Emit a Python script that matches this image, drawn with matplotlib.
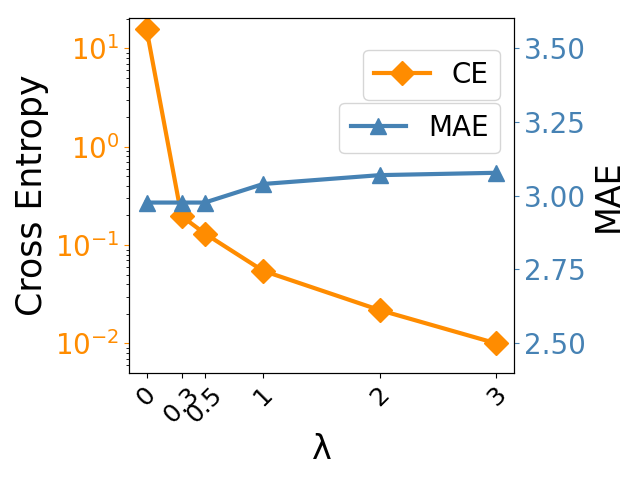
import matplotlib
matplotlib.use("Agg")
import matplotlib.pyplot as plt

lambdas = [0, 0.3, 0.5, 1, 2, 3]
tick_labels = ["0", "0.3", "0.5", "1", "2", "3"]
ce_values = [15.7, 0.197, 0.131, 0.0547, 0.0218, 0.0100]
mae_values = [2.977, 2.977, 2.977, 3.040, 3.070, 3.078]

ce_color = "darkorange"
mae_color = "steelblue"

fig, ax1 = plt.subplots(figsize=(6.4, 4.8), dpi=100)
fig.subplots_adjust(left=0.2016, right=0.803, top=0.9625, bottom=0.223)

l1, = ax1.plot(lambdas, ce_values, color=ce_color, marker="D", markersize=12,
               linewidth=3, label="CE")
ax1.set_yscale("log")
ax1.set_ylim(10 ** -2.3, 10 ** 1.308)
ax1.set_ylabel("Cross Entropy", fontsize=25)
ax1.set_xlabel("λ", fontsize=24)
ax1.tick_params(axis="y", colors=ce_color, labelsize=20)
ax1.set_xticks(lambdas)
ax1.set_xticklabels(tick_labels, rotation=45, fontsize=18)

ax2 = ax1.twinx()
l2, = ax2.plot(lambdas, mae_values, color=mae_color, marker="^", markersize=12,
               linewidth=3, label="MAE")
ax2.set_ylim(2.399, 3.603)
ax2.set_yticks([2.50, 2.75, 3.00, 3.25, 3.50])
ax2.set_yticklabels(["2.50", "2.75", "3.00", "3.25", "3.50"])
ax2.set_ylabel("MAE", fontsize=24)
ax2.tick_params(axis="y", colors=mae_color, labelsize=20)

ax2.legend(handles=[l1], loc="upper right", bbox_to_anchor=(1, 0.95), fontsize=20)
ax1.legend(handles=[l2], loc="upper right", bbox_to_anchor=(1, 0.80), fontsize=20)

fig.savefig("out.png", dpi=100)
